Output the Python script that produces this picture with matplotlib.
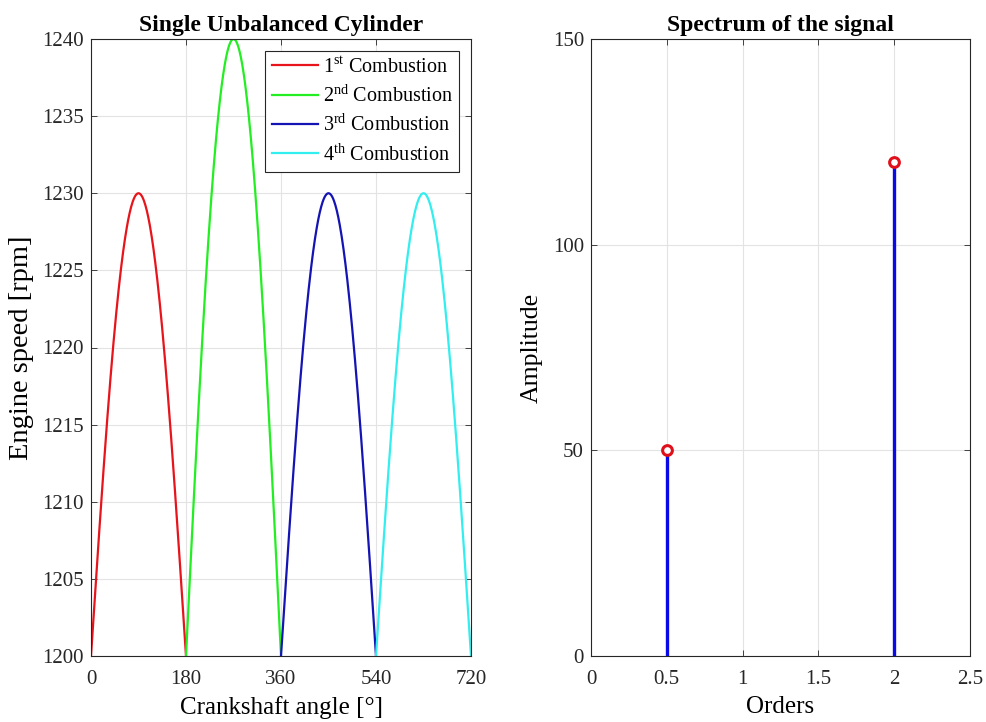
import numpy as np
import matplotlib
matplotlib.use('Agg')
import matplotlib.pyplot as plt

plt.rcParams['font.family'] = ['Liberation Serif', 'DejaVu Serif']
plt.rcParams['mathtext.fontset'] = 'custom'
plt.rcParams['mathtext.rm'] = 'Liberation Serif'

# speed arcs: one half-period per combustion, peak speed of each
base_speed = 1200
seg_start = [0, 180, 360, 540]
seg_peak = [1230, 1240, 1230, 1230]
seg_labels = ['1$^{\\rm st}$ Combustion', '2$^{\\rm nd}$ Combustion',
              '3$^{\\rm rd}$ Combustion', '4$^{\\rm th}$ Combustion']
seg_colors = ['#e8141c', '#22ee22', '#1414b4', '#33eeee']

# spectrum
orders = [0.5, 2.0]
amplitudes = [50, 120]

fig = plt.figure(figsize=(9.86, 7.22), dpi=100)
ax1 = fig.add_axes([91/986, 1-656/722, 380/986, 617/722])
ax2 = fig.add_axes([591/986, 1-656/722, 379/986, 617/722])

for a0, pk, lab, col in zip(seg_start, seg_peak, seg_labels, seg_colors):
    th = np.linspace(0, 180, 200)
    ax1.plot(a0 + th, base_speed + (pk - base_speed) * np.sin(np.radians(th)),
             color=col, lw=1.6, label=lab)

ax1.set_xlim(0, 720)
ax1.set_ylim(1200, 1240)
ax1.set_xticks([0, 180, 360, 540, 720])
ax1.set_yticks(np.arange(1200, 1241, 5))
ax1.set_xlabel('Crankshaft angle [°]', fontsize=18, labelpad=5)
ax1.set_ylabel('Engine speed [rpm]', fontsize=20.5, labelpad=6)
ax1.set_title('Single Unbalanced Cylinder', fontsize=17, fontweight='bold', pad=6)
leg = ax1.legend(loc='upper right', fontsize=14.5, frameon=True, fancybox=False,
                 edgecolor='#262626', framealpha=1, handlelength=2.3,
                 borderaxespad=0.6, borderpad=0.3, labelspacing=0.37,
                 handletextpad=0.25)
leg.get_frame().set_linewidth(0.8)

for o, amp in zip(orders, amplitudes):
    ax2.plot([o, o], [0, amp], color='#0a0ae6', lw=2.4, zorder=3)
ax2.plot(orders, amplitudes, 'o', mfc='white', mec='#e0101a', mew=2.2, ms=7, zorder=4)
ax2.set_xlim(0, 2.5)
ax2.set_ylim(0, 150)
ax2.set_xticks([0, 0.5, 1, 1.5, 2, 2.5])
ax2.set_xticklabels(['0', '0.5', '1', '1.5', '2', '2.5'])
ax2.set_yticks([0, 50, 100, 150])
ax2.set_xlabel('Orders', fontsize=18, labelpad=5)
ax2.set_ylabel('Amplitude', fontsize=18.5, labelpad=7)
ax2.set_title('Spectrum of the signal', fontsize=17, fontweight='bold', pad=6)

for ax in (ax1, ax2):
    ax.grid(True, color='#e3e3e3', lw=0.8)
    ax.set_axisbelow(True)
    ax.tick_params(direction='in', length=4, width=0.6, labelsize=15, colors='#262626',
                   top=True, right=True)
    ax.tick_params(axis='x', pad=10)
    ax.tick_params(axis='y', pad=5)
    for s in ax.spines.values():
        s.set_color('#262626')
        s.set_linewidth(0.8)

fig.savefig('out.png', dpi=100)
